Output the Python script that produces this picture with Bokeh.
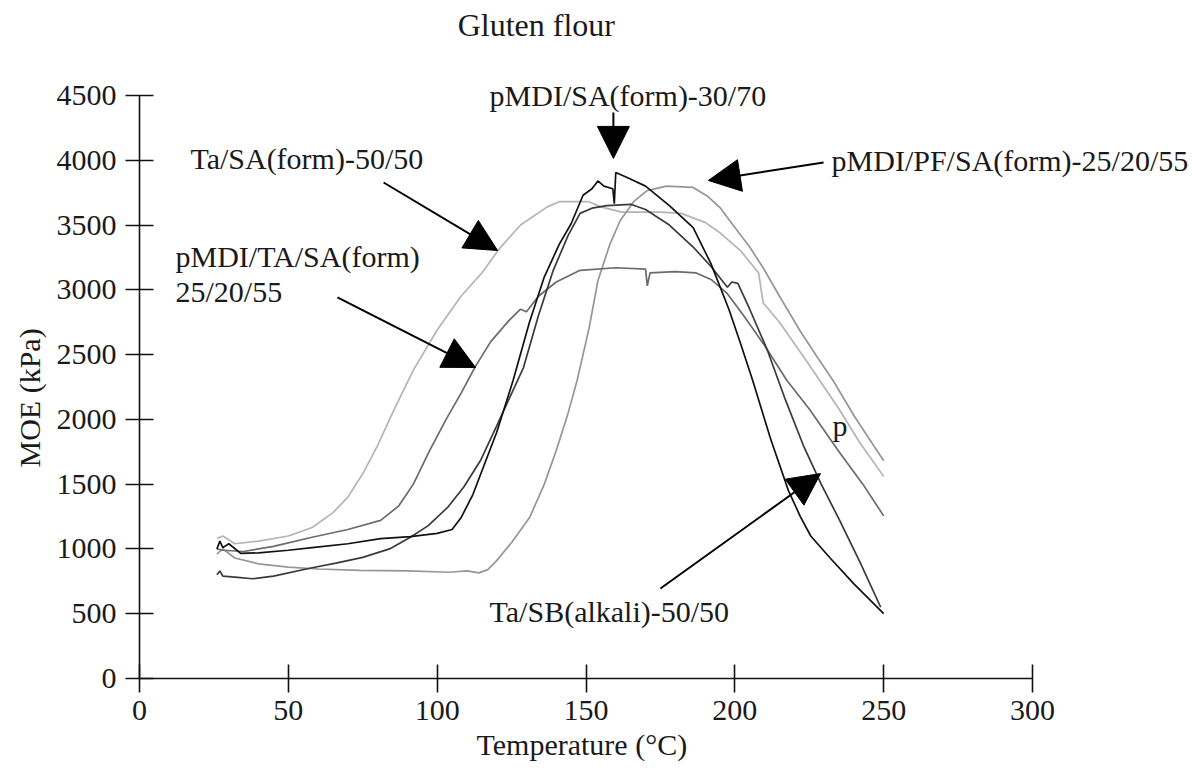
from bokeh.plotting import figure
from bokeh.models import Label, Arrow, NormalHead, FixedTicker, Range1d, Title
from bokeh.embed import file_html
from bokeh.resources import INLINE

# ---- data ----
ta_sa_temp = [26, 28, 32, 40, 50, 58, 65, 70, 75, 80, 85, 92, 100, 108, 115, 121, 128, 137, 141, 151, 155, 162, 175, 182, 190, 195, 202, 208, 209.5, 215, 225, 235, 242, 250]
ta_sa_moe = [1080, 1100, 1040, 1060, 1100, 1165, 1280, 1400, 1580, 1800, 2050, 2380, 2690, 2950, 3130, 3320, 3500, 3640, 3680, 3680, 3640, 3600, 3600, 3590, 3520, 3440, 3300, 3130, 2900, 2750, 2420, 2080, 1820, 1560]

pf_temp = [26, 28, 32, 40, 50, 60, 74, 90, 104, 110, 114, 117, 120, 125, 131, 136, 140, 144, 147, 151, 154, 158, 161.5, 166, 170.5, 177, 186, 191, 195, 200, 205, 209.5, 215, 222, 228, 233, 240, 246, 250]
pf_moe = [960, 1000, 930, 885, 860, 845, 835, 830, 820, 830, 815, 840, 910, 1050, 1240, 1500, 1760, 2050, 2300, 2700, 3070, 3350, 3535, 3680, 3765, 3800, 3790, 3720, 3635, 3480, 3330, 3170, 2950, 2680, 2470, 2300, 2030, 1820, 1680]

ta3_temp = [26, 28, 35, 45, 58, 70, 81, 87, 92, 97.5, 103, 108, 113, 118, 124, 128, 130, 134, 140, 148, 160, 170, 170.6, 171.5, 180, 187, 192, 197.5, 203, 210, 217.5, 225, 235, 243, 250]
ta3_moe = [1000, 990, 980, 1020, 1090, 1150, 1220, 1330, 1500, 1760, 2000, 2200, 2415, 2600, 2760, 2850, 2830, 2950, 3060, 3150, 3170, 3160, 3030, 3130, 3140, 3130, 3080, 2970, 2800, 2570, 2300, 2080, 1750, 1500, 1255]

sa_temp = [26, 27, 28, 30, 34, 40, 50, 58, 70, 81, 91, 100, 105, 108, 112, 115.5, 120, 125.5, 131, 136, 141, 145, 149, 152, 154, 156, 159, 159.5, 160, 164, 170, 178, 186, 192, 198, 202, 206, 212, 218, 222, 225.5, 232, 240, 250]
sa_moe = [1000, 1060, 1010, 1040, 965, 970, 990, 1010, 1040, 1080, 1095, 1120, 1150, 1240, 1420, 1630, 1900, 2300, 2750, 3100, 3350, 3510, 3730, 3780, 3840, 3800, 3780, 3665, 3905, 3865, 3800, 3650, 3480, 3200, 2850, 2580, 2300, 1850, 1450, 1250, 1100, 930, 730, 500]

sb_temp = [26, 27, 28, 33, 38, 45, 58, 66, 75, 84, 91, 97, 103.5, 109, 114.5, 120, 124, 129, 134, 139, 144, 148, 152, 157, 165, 170, 178, 186, 192, 197.5, 199, 201, 205, 211, 217, 223, 229, 235, 242, 249]
sb_moe = [800, 830, 790, 780, 770, 790, 855, 890, 935, 1000, 1090, 1180, 1320, 1480, 1680, 1950, 2150, 2400, 2800, 3150, 3420, 3590, 3630, 3650, 3660, 3620, 3500, 3330, 3180, 3020, 3060, 3050, 2850, 2530, 2150, 1800, 1500, 1230, 900, 550]

x_ticks = [0, 50, 100, 150, 200, 250, 300]
y_ticks = [0, 500, 1000, 1500, 2000, 2500, 3000, 3500, 4000, 4500]

FONT = "Liberation Serif"
FS = "30px"

p = figure(width=1188, height=770,
           x_range=Range1d(0, 352.4), y_range=Range1d(0, 5171),
           output_backend="svg", toolbar_location=None,
           min_border_left=139, min_border_right=0,
           min_border_top=8, min_border_bottom=92)
p.outline_line_color = None
p.xgrid.visible = False
p.ygrid.visible = False
p.background_fill_color = "white"
p.border_fill_color = "white"

for ax in (p.xaxis[0], p.yaxis[0]):
    ax.major_tick_in = 14
    ax.major_tick_out = 14
    ax.minor_tick_line_color = None
    ax.axis_line_color = "#111111"
    ax.axis_line_width = 1.6
    ax.major_tick_line_color = "#111111"
    ax.major_tick_line_width = 1.6
    ax.major_label_text_font = FONT
    ax.major_label_text_font_size = FS
    ax.major_label_text_color = "#1a1a1a"

p.xaxis.bounds = (0, 300)
p.yaxis.bounds = (0, 4500)
p.xaxis.ticker = FixedTicker(ticks=x_ticks)
p.yaxis.ticker = FixedTicker(ticks=y_ticks)
p.xaxis.major_label_standoff = 8
p.yaxis.major_label_standoff = 9

# axis titles as side titles, positioned over the 0-300 / 0-4500 spans
p.add_layout(Title(text="Temperature (°C)", align="left", offset=337, standoff=7,
                   text_font=FONT, text_font_size=FS, text_font_style="normal",
                   text_color="#1a1a1a"), "below")
p.add_layout(Title(text="MOE (kPa)", align="left", offset=211, standoff=15,
                   text_font=FONT, text_font_size=FS, text_font_style="normal",
                   text_color="#1a1a1a"), "left")

lw = 1.7
p.line(ta_sa_temp, ta_sa_moe, line_color="#b4b4b4", line_width=lw)
p.line(pf_temp, pf_moe, line_color="#969696", line_width=lw)
p.line(ta3_temp, ta3_moe, line_color="#6b6b6b", line_width=lw)
p.line(sb_temp, sb_moe, line_color="#3a3a3a", line_width=lw)
p.line(sa_temp, sa_moe, line_color="#111111", line_width=lw)

def lab(x, y, t, size=FS):
    p.add_layout(Label(x=x, y=y, text=t, text_font=FONT, text_font_size=size,
                       text_color="#1a1a1a", text_align="left", text_baseline="middle"))

lab(106.9, 5040, "Gluten flour", "32px")
lab(117.6, 4500, "pMDI/SA(form)-30/70")
lab(17.1, 4014, "Ta/SA(form)-50/50")
lab(232.5, 3998, "pMDI/PF/SA(form)-25/20/55")
lab(12.1, 3257, "pMDI/TA/SA(form)")
lab(12.1, 2987, "25/20/55")
lab(117.6, 517, "Ta/SB(alkali)-50/50")
lab(232.8, 1953, "p")

def arrow(x0, y0, x1, y1):
    p.add_layout(Arrow(end=NormalHead(size=32, fill_color="black", line_color="black"),
                       x_start=x0, y_start=y0, x_end=x1, y_end=y1,
                       line_color="black", line_width=2))

arrow(159.2, 4369, 159.2, 4014)
arrow(229.8, 3983, 191.1, 3844)
arrow(82.0, 3828, 120.3, 3303)
arrow(66.5, 2941, 112.9, 2400)
arrow(175.0, 695, 228.8, 1582)

open("out.html", "w").write(file_html(p, INLINE))
